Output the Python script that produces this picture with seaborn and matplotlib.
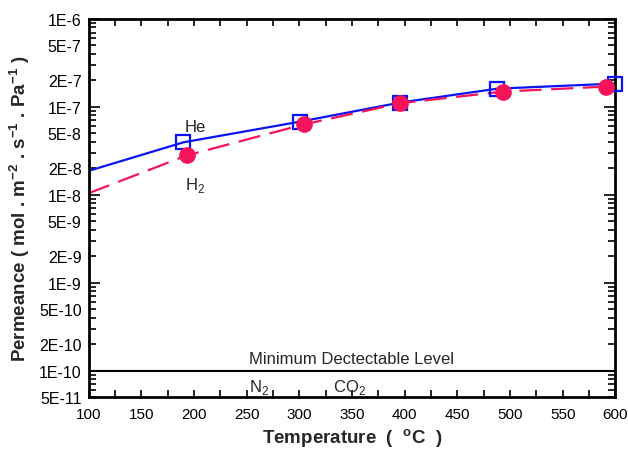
import matplotlib
matplotlib.use('Agg')
import matplotlib.pyplot as plt
import matplotlib.ticker as mticker
import numpy as np
import pandas as pd
import seaborn as sns

# measured points
he_temp = [190, 301, 396, 488, 600]
he_perm = [3.95e-8, 6.8e-8, 1.12e-7, 1.61e-7, 1.84e-7]
h2_temp = [193, 304, 396, 493, 591]
h2_perm = [2.8e-8, 6.3e-8, 1.1e-7, 1.49e-7, 1.70e-7]

# drawn trend lines
he_line_temp = [100, 190, 301, 396, 488, 600]
he_line_perm = [1.87e-8, 3.95e-8, 6.8e-8, 1.12e-7, 1.61e-7, 1.84e-7]
h2_line_temp = [100, 193, 304, 396, 493, 591]
h2_line_perm = [1.04e-8, 2.8e-8, 6.3e-8, 1.1e-7, 1.49e-7, 1.70e-7]

min_level = 1e-10
y_lo, y_hi = 5e-11, 1e-6

sns.set_style('ticks')
plt.rcParams['font.family'] = ['Liberation Sans', 'DejaVu Sans']
plt.rcParams['mathtext.fontset'] = 'custom'
plt.rcParams['mathtext.rm'] = 'Liberation Sans'
plt.rcParams['mathtext.bf'] = 'Liberation Sans:bold'

blue = '#0a14f0'
red = '#f5145a'

fig, ax = plt.subplots(figsize=(6.28, 4.52), dpi=100)
fig.subplots_adjust(left=0.141, right=0.980, top=0.956, bottom=0.119)

he_line = pd.DataFrame({'T': he_line_temp, 'P': he_line_perm})
h2_line = pd.DataFrame({'T': h2_line_temp, 'P': h2_line_perm})
sns.lineplot(data=he_line, x='T', y='P', color=blue, lw=1.6, ax=ax)
sns.lineplot(data=h2_line, x='T', y='P', color=red, lw=1.6, ax=ax)
ax.lines[-1].set_dashes((10, 4.3))

ax.plot(he_temp, he_perm, ls='none', marker='s', ms=10, mfc='none', mec=blue, mew=1.6, clip_on=False, zorder=4)
ax.plot(h2_temp, h2_perm, ls='none', marker='o', ms=11, mfc=red, mec=red, clip_on=False, zorder=5)

ax.axhline(min_level, color='black', lw=1.5)

ax.set_yscale('log')
ax.set_xlim(100, 600)
ax.set_ylim(y_lo, y_hi)

ax.xaxis.set_major_locator(mticker.MultipleLocator(50))
ax.xaxis.set_minor_locator(mticker.MultipleLocator(25))
ax.yaxis.set_major_locator(mticker.LogLocator(base=10, numticks=20))
ax.yaxis.set_minor_locator(mticker.LogLocator(base=10, subs=np.arange(2, 10), numticks=20))


def fmt(v, pos=None):
    # label only 1, 2 and 5 of each decade, inside the shown range
    if v < y_lo * 0.99 or v > y_hi * 1.01:
        return ''
    e = int(np.floor(np.log10(v) + 1e-9))
    m = int(round(v / 10 ** e))
    if m in (1, 2, 5):
        return f'{m}E{e}'
    return ''


ax.yaxis.set_major_formatter(mticker.FuncFormatter(fmt))
ax.yaxis.set_minor_formatter(mticker.FuncFormatter(fmt))

ax.tick_params(axis='both', which='both', direction='in', top=True, right=True,
               labelsize=11.5, width=1.2, colors='black')
ax.tick_params(axis='x', which='both', length=5, pad=7, labelsize=11)
ax.tick_params(axis='y', which='major', length=8, pad=5)
ax.tick_params(axis='y', which='minor', length=5, pad=5)

for s in ax.spines.values():
    s.set_linewidth(2)
    s.set_color('black')

ax.set_xlabel(r'Temperature  (  $\mathbf{^o}$C  )', fontsize=13.5, fontweight='bold', labelpad=4)
ax.set_ylabel(r'Permeance ( mol . m$\mathbf{^{-2}}$ . s$\mathbf{^{-1}}$ . Pa$\mathbf{^{-1}}$ )',
              fontsize=13.5, fontweight='bold', labelpad=5)

ax.text(201, 6.0e-8, 'He', fontsize=12, ha='center', va='center')
ax.text(201, 1.32e-8, r'H$_2$', fontsize=12, ha='center', va='center')
ax.text(350, 1.38e-10, 'Minimum Dectectable Level', fontsize=12, ha='center', va='center')
ax.text(262, 6.7e-11, r'N$_2$', fontsize=12, ha='center', va='center')
ax.text(348, 6.7e-11, r'CO$_2$', fontsize=12, ha='center', va='center')

plt.savefig('out.png')
